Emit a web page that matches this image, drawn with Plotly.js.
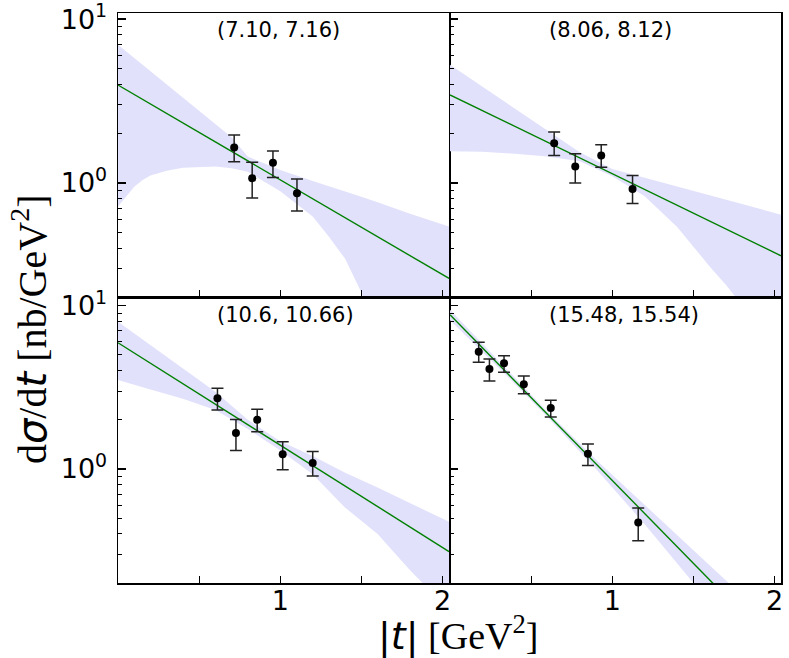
<!DOCTYPE html>
<html>
<head>
<meta charset="utf-8">
<script src="https://cdn.plot.ly/plotly-3.0.1.min.js"></script>
<style>html,body{margin:0;padding:0;background:#fff;}#chart{width:789px;height:658px;}</style>
</head>
<body>
<div id="chart"></div>
<script>
// ---- Panel labels (sqrt(s) bins) ----
const panelLabels = ["(7.10, 7.16)", "(8.06, 8.12)", "(10.6, 10.66)", "(15.48, 15.54)"];

// ---- Panel 1: (7.10, 7.16) ----
const t1 = [0.716, 0.827, 0.955, 1.103];
const y1 = [1.65, 1.07, 1.33, 0.865];
const hi1 = [1.96, 1.34, 1.57, 1.06];
const lo1 = [1.35, 0.81, 1.08, 0.675];
const fitT1 = [0, 2.04];
const fitY1 = [3.96, 0.262];
const bandT1 = [0, 0.05, 0.1, 0.15, 0.2, 0.3, 0.4, 0.6, 0.7, 0.8, 1.0, 1.2, 1.3, 1.4, 1.5, 1.6, 1.8, 2.04];
const bandUp1 = [6.97, 6.35, 5.78, 5.27, 4.80, 3.99, 3.31, 2.28, 1.90, 1.45, 1.20, 1.03, 0.96, 0.89, 0.825, 0.764, 0.65, 0.543];
const bandLo1 = [0.72, 0.83, 0.95, 1.04, 1.11, 1.19, 1.24, 1.26, 1.23, 1.17, 0.89, 0.625, 0.47, 0.345, 0.215, 0.12, 0.03, 0.01];

// ---- Panel 2: (8.06, 8.12) ----
const t2 = [0.642, 0.772, 0.932, 1.125];
const y2 = [1.75, 1.26, 1.47, 0.92];
const hi2 = [2.05, 1.51, 1.71, 1.11];
const lo2 = [1.47, 1.00, 1.25, 0.75];
const fitT2 = [0, 2.04];
const fitY2 = [3.45, 0.36];
const bandT2 = [0, 0.2, 0.4, 0.6, 0.8, 1.0, 1.2, 1.4, 1.6, 1.7, 1.8, 2.04];
const bandUp2 = [5.26, 3.86, 2.84, 2.08, 1.54, 1.22, 1.08, 0.95, 0.845, 0.795, 0.745, 0.64];
const bandLo2 = [1.56, 1.55, 1.51, 1.45, 1.36, 1.10, 0.83, 0.54, 0.31, 0.24, 0.18, 0.05];

// ---- Panel 3: (10.6, 10.66) ----
const t3 = [0.613, 0.727, 0.858, 1.015, 1.2];
const y3 = [2.71, 1.66, 2.00, 1.23, 1.09];
const hi3 = [3.12, 2.01, 2.32, 1.47, 1.28];
const lo3 = [2.30, 1.30, 1.69, 0.99, 0.906];
const fitT3 = [0, 2.04];
const fitY3 = [5.93, 0.312];
const bandT3 = [0, 0.2, 0.4, 0.6, 0.8, 1.0, 1.2, 1.4, 1.6, 1.8, 1.9, 2.04];
const bandUp3 = [7.98, 5.74, 4.12, 2.97, 2.0, 1.48, 1.20, 0.95, 0.77, 0.62, 0.555, 0.475];
const bandLo3 = [3.51, 3.07, 2.69, 2.30, 1.76, 1.30, 0.93, 0.58, 0.40, 0.24, 0.19, 0.12];

// ---- Panel 4: (15.48, 15.54) ----
const t4 = [0.177, 0.243, 0.333, 0.455, 0.621, 0.850, 1.160];
const y4 = [5.22, 4.09, 4.44, 3.30, 2.36, 1.24, 0.471];
const hi4 = [5.97, 4.72, 4.94, 3.71, 2.64, 1.42, 0.577];
const lo4 = [4.50, 3.46, 3.91, 2.89, 2.08, 1.05, 0.364];
const fitT4 = [0, 2.04];
const fitY4 = [8.81, 0.0749];
const bandT4 = [0, 0.3, 0.6, 0.9, 1.2, 1.5, 1.8, 2.04];
const bandUp4 = [9.44, 4.58, 2.24, 1.14, 0.605, 0.322, 0.169, 0.101];
const bandLo4 = [8.13, 4.17, 2.09, 1.00, 0.459, 0.2006, 0.0867, 0.043];

// ---- Tick labels ----
const xTickVals = [0.5, 1, 1.5, 2];
const xTickText = ["", "1", "", "2"];
const yTickVals = [1, 10];
const yTickText = ["10<sup>0</sup>", "10<sup>1</sup>"];
const yMinorVals = [0.2, 0.3, 0.4, 0.5, 0.6, 0.7, 0.8, 0.9, 2, 3, 4, 5, 6, 7, 8, 9];

const panels = [
  {t: t1, y: y1, hi: hi1, lo: lo1, fitT: fitT1, fitY: fitY1, bT: bandT1, bU: bandUp1, bL: bandLo1, xa: "x", ya: "y"},
  {t: t2, y: y2, hi: hi2, lo: lo2, fitT: fitT2, fitY: fitY2, bT: bandT2, bU: bandUp2, bL: bandLo2, xa: "x2", ya: "y2"},
  {t: t3, y: y3, hi: hi3, lo: lo3, fitT: fitT3, fitY: fitY3, bT: bandT3, bU: bandUp3, bL: bandLo3, xa: "x3", ya: "y3"},
  {t: t4, y: y4, hi: hi4, lo: lo4, fitT: fitT4, fitY: fitY4, bT: bandT4, bU: bandUp4, bL: bandLo4, xa: "x4", ya: "y4"}
];

const W = 789, H = 658;
const traces = [];
panels.forEach(p => {
  traces.push({
    x: p.bT.concat(p.bT.slice().reverse()),
    y: p.bU.concat(p.bL.slice().reverse()),
    xaxis: p.xa, yaxis: p.ya, mode: "lines", fill: "toself",
    fillcolor: "rgb(225,225,252)", line: {width: 0, color: "rgba(0,0,0,0)"},
    hoverinfo: "skip", showlegend: false
  });
  traces.push({
    x: p.fitT, y: p.fitY, xaxis: p.xa, yaxis: p.ya, mode: "lines",
    line: {color: "#008000", width: 1.4}, showlegend: false
  });
  traces.push({
    x: p.t, y: p.y, xaxis: p.xa, yaxis: p.ya, mode: "markers",
    marker: {color: "#000", size: 8},
    error_y: {type: "data", symmetric: false,
      array: p.hi.map((v, i) => v - p.y[i]),
      arrayminus: p.y.map((v, i) => v - p.lo[i]),
      color: "#222", thickness: 1.5, width: 6},
    showlegend: false
  });
});

const tickFont = {family: "DejaVu Sans", size: 27, color: "#000"};
const xDomL = [118 / W, 449 / W], xDomR = [450 / W, 781 / W];
const yDomT = [1 - 297 / H, 1 - 13 / H], yDomB = [1 - 583 / H, 1 - 297 / H];
const rangeTop = [-0.695, 1.037], rangeBot = [-0.698, 1.053];

function xAxis(dom, anchor, labels) {
  return {
    domain: dom, anchor: anchor, range: [0, 2.04],
    tickvals: xTickVals, ticktext: xTickText, showticklabels: labels,
    ticks: "inside", ticklen: 7, tickwidth: 1.2, tickcolor: "#000",
    showline: true, mirror: true, linecolor: "#000", linewidth: 1.5,
    showgrid: false, zeroline: false, tickfont: tickFont, ticklabelstandoff: -7,
    ticklabeloverflow: "allow"
  };
}
function yAxis(dom, anchor, range, labels) {
  return {
    domain: dom, anchor: anchor, type: "log", range: range,
    tickvals: yTickVals, ticktext: yTickText, showticklabels: labels,
    ticks: "inside", ticklen: 8, tickwidth: 1.2, tickcolor: "#000",
    minor: {tickvals: yMinorVals, ticks: "inside", ticklen: 4, tickwidth: 1, tickcolor: "#000", showgrid: false},
    showline: true, mirror: true, linecolor: "#000", linewidth: 1.5,
    showgrid: false, zeroline: false, tickfont: tickFont, ticklabelstandoff: 4,
    ticklabeloverflow: "allow"
  };
}

const labelFont = {family: "DejaVu Sans", size: 21, color: "#000"};
const annY = [1 - 30 / H, 1 - 30 / H, 1 - 315 / H, 1 - 315 / H];
const annotations = panels.map((p, i) => ({
  text: panelLabels[i], xref: p.xa, yref: "paper", x: 0.6, y: annY[i],
  xanchor: "left", yanchor: "middle", showarrow: false, font: labelFont
}));
const SANS = '<span style="font-family:DejaVu Sans"><i>';
const END = '</i></span>';
annotations.push({
  text: "d" + SANS + "σ" + END + "/d" + SANS + "t" + END + " [nb/GeV<sup>2</sup>]",
  xref: "paper", yref: "paper",
  x: 29 / W, y: 1 - 330 / H, xanchor: "center", yanchor: "middle", textangle: -90,
  showarrow: false, font: {family: "Liberation Serif", size: 40, color: "#000"}
});
annotations.push({
  text: '<span style="font-family:DejaVu Sans">|<i>t</i>|</span> [GeV<sup>2</sup>]',
  xref: "paper", yref: "paper",
  x: 458 / W, y: 1 - 634 / H, xanchor: "center", yanchor: "middle",
  showarrow: false, font: {family: "Liberation Serif", size: 38, color: "#000"}
});

const layout = {
  width: W, height: H, margin: {l: 0, r: 0, t: 0, b: 0},
  paper_bgcolor: "#fff", plot_bgcolor: "#fff", showlegend: false,
  xaxis: xAxis(xDomL, "y", false),
  xaxis2: xAxis(xDomR, "y2", false),
  xaxis3: xAxis(xDomL, "y3", true),
  xaxis4: xAxis(xDomR, "y4", true),
  yaxis: yAxis(yDomT, "x", rangeTop, true),
  yaxis2: yAxis(yDomT, "x2", rangeTop, false),
  yaxis3: yAxis(yDomB, "x3", rangeBot, true),
  yaxis4: yAxis(yDomB, "x4", rangeBot, false),
  annotations: annotations
};

Plotly.newPlot("chart", traces, layout, {displayModeBar: false, staticPlot: true});
</script>
</body>
</html>
